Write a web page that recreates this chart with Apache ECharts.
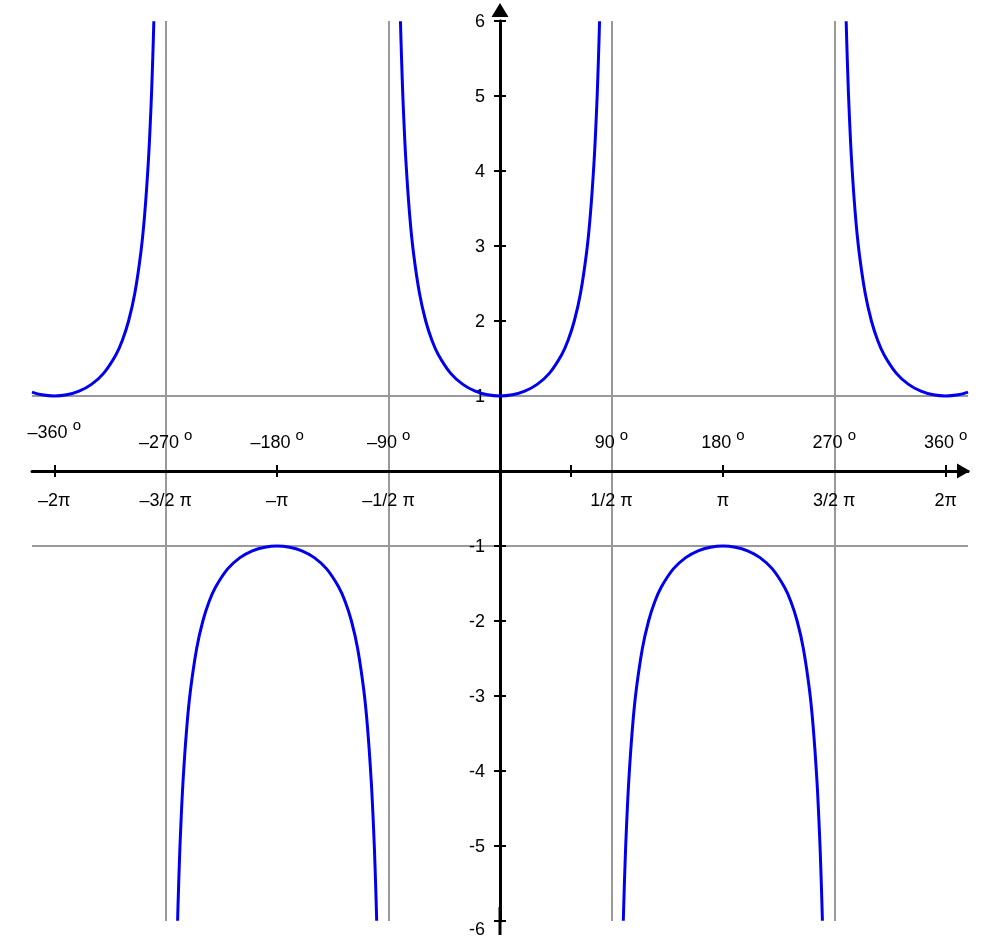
<!DOCTYPE html>
<html>
<head>
<meta charset="utf-8">
<script src="https://cdn.jsdelivr.net/npm/echarts/dist/echarts.min.js"></script>
<style>
  html, body { margin: 0; padding: 0; background: #fff; }
  #chart { width: 1000px; height: 942px; }
</style>
</head>
<body>
<div id="chart"></div>
<script>
// x in degrees, y = sec(x)
const leftTop = [
  [-378, 1.0515], [-370, 1.0154], [-360, 1], [-350, 1.0154], [-340, 1.0642],
  [-330, 1.1547], [-320, 1.3054], [-310, 1.5557], [-305, 1.7434], [-300, 2],
  [-295, 2.3662], [-290, 2.9238], [-287, 3.4203], [-284, 4.1336], [-282, 4.8097],
  [-281, 5.2408], [-280, 5.7588], [-279.6, 5.996]
];
const leftBottom = [
  [-260.4, -5.996], [-260, -5.7588], [-259, -5.2408], [-258, -4.8097], [-256, -4.1336],
  [-253, -3.4203], [-250, -2.9238], [-245, -2.3662], [-240, -2], [-235, -1.7434],
  [-230, -1.5557], [-220, -1.3054], [-210, -1.1547], [-200, -1.0642], [-190, -1.0154],
  [-180, -1], [-170, -1.0154], [-160, -1.0642], [-150, -1.1547], [-140, -1.3054],
  [-130, -1.5557], [-125, -1.7434], [-120, -2], [-115, -2.3662], [-110, -2.9238],
  [-107, -3.4203], [-104, -4.1336], [-102, -4.8097], [-101, -5.2408], [-100, -5.7588],
  [-99.6, -5.996]
];
const midTop = [
  [-80.4, 5.996], [-80, 5.7588], [-79, 5.2408], [-78, 4.8097], [-76, 4.1336],
  [-73, 3.4203], [-70, 2.9238], [-65, 2.3662], [-60, 2], [-55, 1.7434],
  [-50, 1.5557], [-40, 1.3054], [-30, 1.1547], [-20, 1.0642], [-10, 1.0154],
  [0, 1], [10, 1.0154], [20, 1.0642], [30, 1.1547], [40, 1.3054],
  [50, 1.5557], [55, 1.7434], [60, 2], [65, 2.3662], [70, 2.9238],
  [73, 3.4203], [76, 4.1336], [78, 4.8097], [79, 5.2408], [80, 5.7588],
  [80.4, 5.996]
];
const rightBottom = [
  [99.6, -5.996], [100, -5.7588], [101, -5.2408], [102, -4.8097], [104, -4.1336],
  [107, -3.4203], [110, -2.9238], [115, -2.3662], [120, -2], [125, -1.7434],
  [130, -1.5557], [140, -1.3054], [150, -1.1547], [160, -1.0642], [170, -1.0154],
  [180, -1], [190, -1.0154], [200, -1.0642], [210, -1.1547], [220, -1.3054],
  [230, -1.5557], [235, -1.7434], [240, -2], [245, -2.3662], [250, -2.9238],
  [253, -3.4203], [256, -4.1336], [258, -4.8097], [259, -5.2408], [260, -5.7588],
  [260.4, -5.996]
];
const rightTop = [
  [279.6, 5.996], [280, 5.7588], [281, 5.2408], [282, 4.8097], [284, 4.1336],
  [287, 3.4203], [290, 2.9238], [295, 2.3662], [300, 2], [305, 1.7434],
  [310, 1.5557], [320, 1.3054], [330, 1.1547], [340, 1.0642], [350, 1.0154],
  [360, 1], [370, 1.0154], [378, 1.0515]
];

const degreeTicks = [-360, -270, -180, -90, 90, 180, 270, 360];
const degreeLabels = ['–360', '–270', '–180', '–90', '90', '180', '270', '360'];
const radianLabels = ['–2π', '–3/2 π', '–π', '–1/2 π', '1/2 π', 'π', '3/2 π', '2π'];
const xTickValues = [-360, -180, 57.3, 180, 360];
const asymptotes = [-270, -90, 90, 270];
const levelLines = [1, -1];

const font = 'Liberation Sans, Arial, sans-serif';
const gray = '#999';
const blue = '#0000ee';

const branches = [leftTop, leftBottom, midTop, rightBottom, rightTop];

// grid is 936 x 900, the axes sit at its middle
const W = 1000, H = 942, L = 32, R = 32, T = 21, B = 21;
const xShift = -(H - T - B) / 2;
const yShift = -(W - L - R) / 2;

const chart = echarts.init(document.getElementById('chart'));

const tick = { length: 6, lineStyle: { color: '#000', width: 2 } };
const txt = { fontFamily: font, color: '#000' };

const option = {
  animation: false,
  grid: { left: L, right: R, top: T, bottom: B, containLabel: false, outerBoundsMode: 'none' },
  xAxis: [
    {
      type: 'value', min: -378, max: 378, position: 'bottom', offset: xShift, z: 2,
      axisLine: {
        onZero: false,
        lineStyle: { color: '#000', width: 3 },
        symbol: ['none', 'triangle'],
        symbolSize: [15, 13],
        symbolOffset: [0, -4.5]
      },
      axisTick: Object.assign({ customValues: xTickValues }, tick),
      axisLabel: {
        customValues: degreeTicks,
        margin: 21,
        color: '#000', fontSize: 18, fontFamily: font, lineHeight: 18,
        formatter: function (v) {
          const i = degreeTicks.indexOf(v);
          return i < 0 ? '' : radianLabels[i];
        }
      },
      splitLine: { show: false }
    },
    {
      type: 'value', min: -378, max: 378, position: 'top', offset: xShift, z: 2,
      axisLine: { onZero: false, show: false },
      axisTick: Object.assign({ customValues: xTickValues }, tick),
      axisLabel: {
        customValues: degreeTicks,
        margin: 19,
        color: '#000', fontSize: 18, fontFamily: font, lineHeight: 18,
        formatter: function (v) {
          const i = degreeTicks.indexOf(v);
          if (i < 0) return '';
          if (i === 0) return '{n2|' + degreeLabels[i] + ' }{o2|o}';
          return '{n|' + degreeLabels[i] + ' }{o|o}';
        },
        rich: {
          n: Object.assign({ fontSize: 18, lineHeight: 18 }, txt),
          o: Object.assign({ fontSize: 15, lineHeight: 15, padding: [0, 0, 15, 0] }, txt),
          n2: Object.assign({ fontSize: 18, lineHeight: 18, padding: [0, 0, 20, 0] }, txt),
          o2: Object.assign({ fontSize: 15, lineHeight: 15, padding: [0, 0, 35, 0] }, txt)
        }
      },
      splitLine: { show: false }
    }
  ],
  yAxis: [
    {
      type: 'value', min: -6, max: 6, interval: 1, position: 'left', offset: yShift, z: 2,
      axisLine: {
        onZero: false,
        lineStyle: { color: '#000', width: 3 },
        symbol: ['none', 'triangle'],
        symbolSize: [17, 14],
        symbolOffset: [0, 11]
      },
      axisTick: tick,
      axisLabel: {
        margin: 15, showMinLabel: true, showMaxLabel: true,
        color: '#000', fontSize: 18, fontFamily: font, lineHeight: 18,
        formatter: function (v) {
          if (v === 0) return '';
          if (v === -6) return '{d|-6}';
          return '{r|' + v + '}';
        },
        rich: {
          r: Object.assign({ fontSize: 18, lineHeight: 18, padding: [2, 0, 0, 0] }, txt),
          d: Object.assign({ fontSize: 18, lineHeight: 18, padding: [18, 0, 0, 0] }, txt)
        }
      },
      splitLine: { show: false }
    },
    {
      type: 'value', min: -6, max: 6, interval: 1, position: 'right', offset: yShift, z: 2,
      axisLine: {
        onZero: false,
        lineStyle: { color: '#000', width: 3 },
        symbol: ['rect', 'none'],
        symbolSize: [3, 28],
        symbolOffset: [0, 0]
      },
      axisTick: tick,
      axisLabel: { show: false },
      splitLine: { show: false }
    }
  ],
  series: [
    {
      type: 'line', data: [], z: 1, silent: true,
      markLine: {
        z: 1, silent: true, symbol: 'none', animation: false,
        label: { show: false },
        lineStyle: { color: gray, width: 2, type: 'solid' },
        emphasis: { disabled: true },
        data: asymptotes.map(v => ({ xAxis: v })).concat(levelLines.map(v => ({ yAxis: v })))
      }
    }
  ].concat(branches.map(b => ({
    type: 'line', data: b, z: 3, silent: true,
    showSymbol: false, smooth: 0.4,
    lineStyle: { color: blue, width: 3 }
  })))
};

chart.setOption(option);
</script>
</body>
</html>
